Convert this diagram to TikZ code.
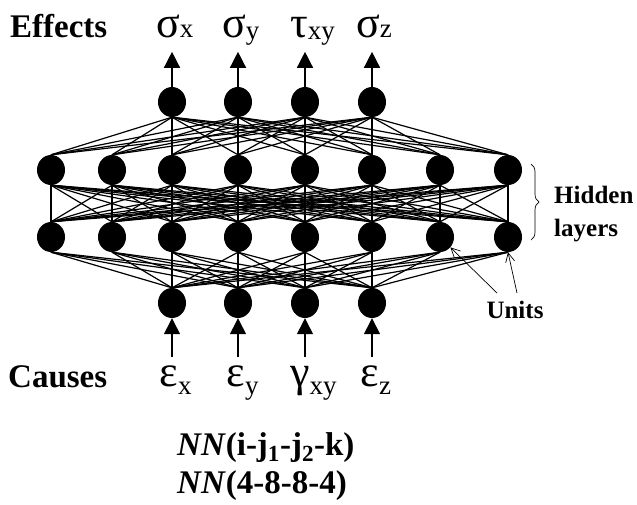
\documentclass[tikz,border=0pt]{standalone}
\usepackage{fontspec}
\setmainfont{Liberation Serif}
\usetikzlibrary{shapes.geometric,arrows.meta,decorations.pathreplacing}
\newcommand{\gk}[3][0pt]{{\fontsize{44}{44}\selectfont #2}\rlap{\raisebox{#1}{\fontsize{27}{27}\selectfont #3}}}

\begin{document}
\begin{tikzpicture}[x=1pt,y=-1pt,
  unit/.style={ellipse,fill=black,minimum width=28pt,minimum height=30pt,inner sep=0pt},
  link/.style={line width=1.2pt},
  io/.style={line width=1.4pt,-{Triangle[length=16pt,width=16pt]}},
  ptr/.style={line width=0.7pt,-{Straight Barb[length=9pt,width=9pt]}},
  ttl/.style={font=\bfseries\fontsize{33}{35}\selectfont,anchor=base west,inner sep=0pt},
  gr/.style={anchor=base,inner sep=0pt},
  note/.style={font=\bfseries\fontsize{25}{33}\selectfont,inner sep=0pt}]
  \useasboundingbox (0,0) rectangle (637,504);
  % output layer
  \node[unit] (o1) at (172,102){};
  \node[unit] (o2) at (238,102){};
  \node[unit] (o3) at (305,102){};
  \node[unit] (o4) at (372,102){};
  % hidden layer 1
  \node[unit] (a1) at (51,170){};
  \node[unit] (a2) at (112,170){};
  \node[unit] (a3) at (172,170){};
  \node[unit] (a4) at (238,170){};
  \node[unit] (a5) at (305,170){};
  \node[unit] (a6) at (372,170){};
  \node[unit] (a7) at (440,170){};
  \node[unit] (a8) at (508,170){};
  % hidden layer 2
  \node[unit] (b1) at (51,237){};
  \node[unit] (b2) at (112,237){};
  \node[unit] (b3) at (172,237){};
  \node[unit] (b4) at (238,237){};
  \node[unit] (b5) at (305,237){};
  \node[unit] (b6) at (372,237){};
  \node[unit] (b7) at (440,237){};
  \node[unit] (b8) at (508,237){};
  % input layer
  \node[unit] (i1) at (172,303){};
  \node[unit] (i2) at (238,303){};
  \node[unit] (i3) at (305,303){};
  \node[unit] (i4) at (372,303){};
  % weights
  \foreach \u in {1,...,4}{\foreach \v in {1,...,8}{\draw[link] (o\u.south) -- (a\v.north);}}
  \foreach \u in {1,...,8}{\foreach \v in {1,...,8}{\draw[link] (a\u.south) -- (b\v.north);}}
  \foreach \u in {1,...,8}{\foreach \v in {1,...,4}{\draw[link] (b\u.south) -- (i\v.north);}}
  % effects
  \node[ttl] (eff) at (10,37){Effects};
  \node[gr] (sx) at (168,37){\gk{σ}{x}};
  \node[gr] (sy) at (234,37){\gk[-2pt]{σ}{y}};
  \node[gr] (txy) at (299,37){\gk[-2pt]{τ}{xy}};
  \node[gr] (sz) at (368,37){\gk{σ}{z}};
  \foreach \n in {1,...,4}{\draw[io] (o\n.north) -- ++(0,-35);}
  % causes
  \node[ttl] (cau) at (8,387){Causes};
  \node[gr] (ex) at (169,386){\gk[-8pt]{ε}{x}};
  \node[gr] (ey) at (236,386){\gk[-8pt]{ε}{y}};
  \node[gr] (gxy) at (300,386){\gk[-8pt]{γ}{xy}};
  \node[gr] (ez) at (370,386){\gk[-8pt]{ε}{z}};
  \foreach \n in {1,...,4}{\draw[io] (i\n.south) ++(0,39) -- (i\n.south);}
  % hidden layers brace
  \draw[decorate,decoration={brace,amplitude=8pt},line width=0.7pt] (531,164) -- (531,240);
  \node[note,align=left,anchor=west] (hid) at (554,214){Hidden\\layers};
  % units
  \node[note,anchor=base] (uni) at (515,318){Units};
  \coordinate (u1) at (497,293);
  \coordinate (u2) at (517,293);
  \draw[ptr] (u1) -- (b7.-45);
  \draw[ptr] (u2) -- (b8.south);
  % notation
  \node[ttl,font=\bfseries\fontsize{33}{38}\selectfont,align=left,anchor=north west] (nn) at (177,432){\textit{NN}(i-j\textsubscript{1}-j\textsubscript{2}-k)\\\textit{NN}(4-8-8-4)};
\end{tikzpicture}
\end{document}
